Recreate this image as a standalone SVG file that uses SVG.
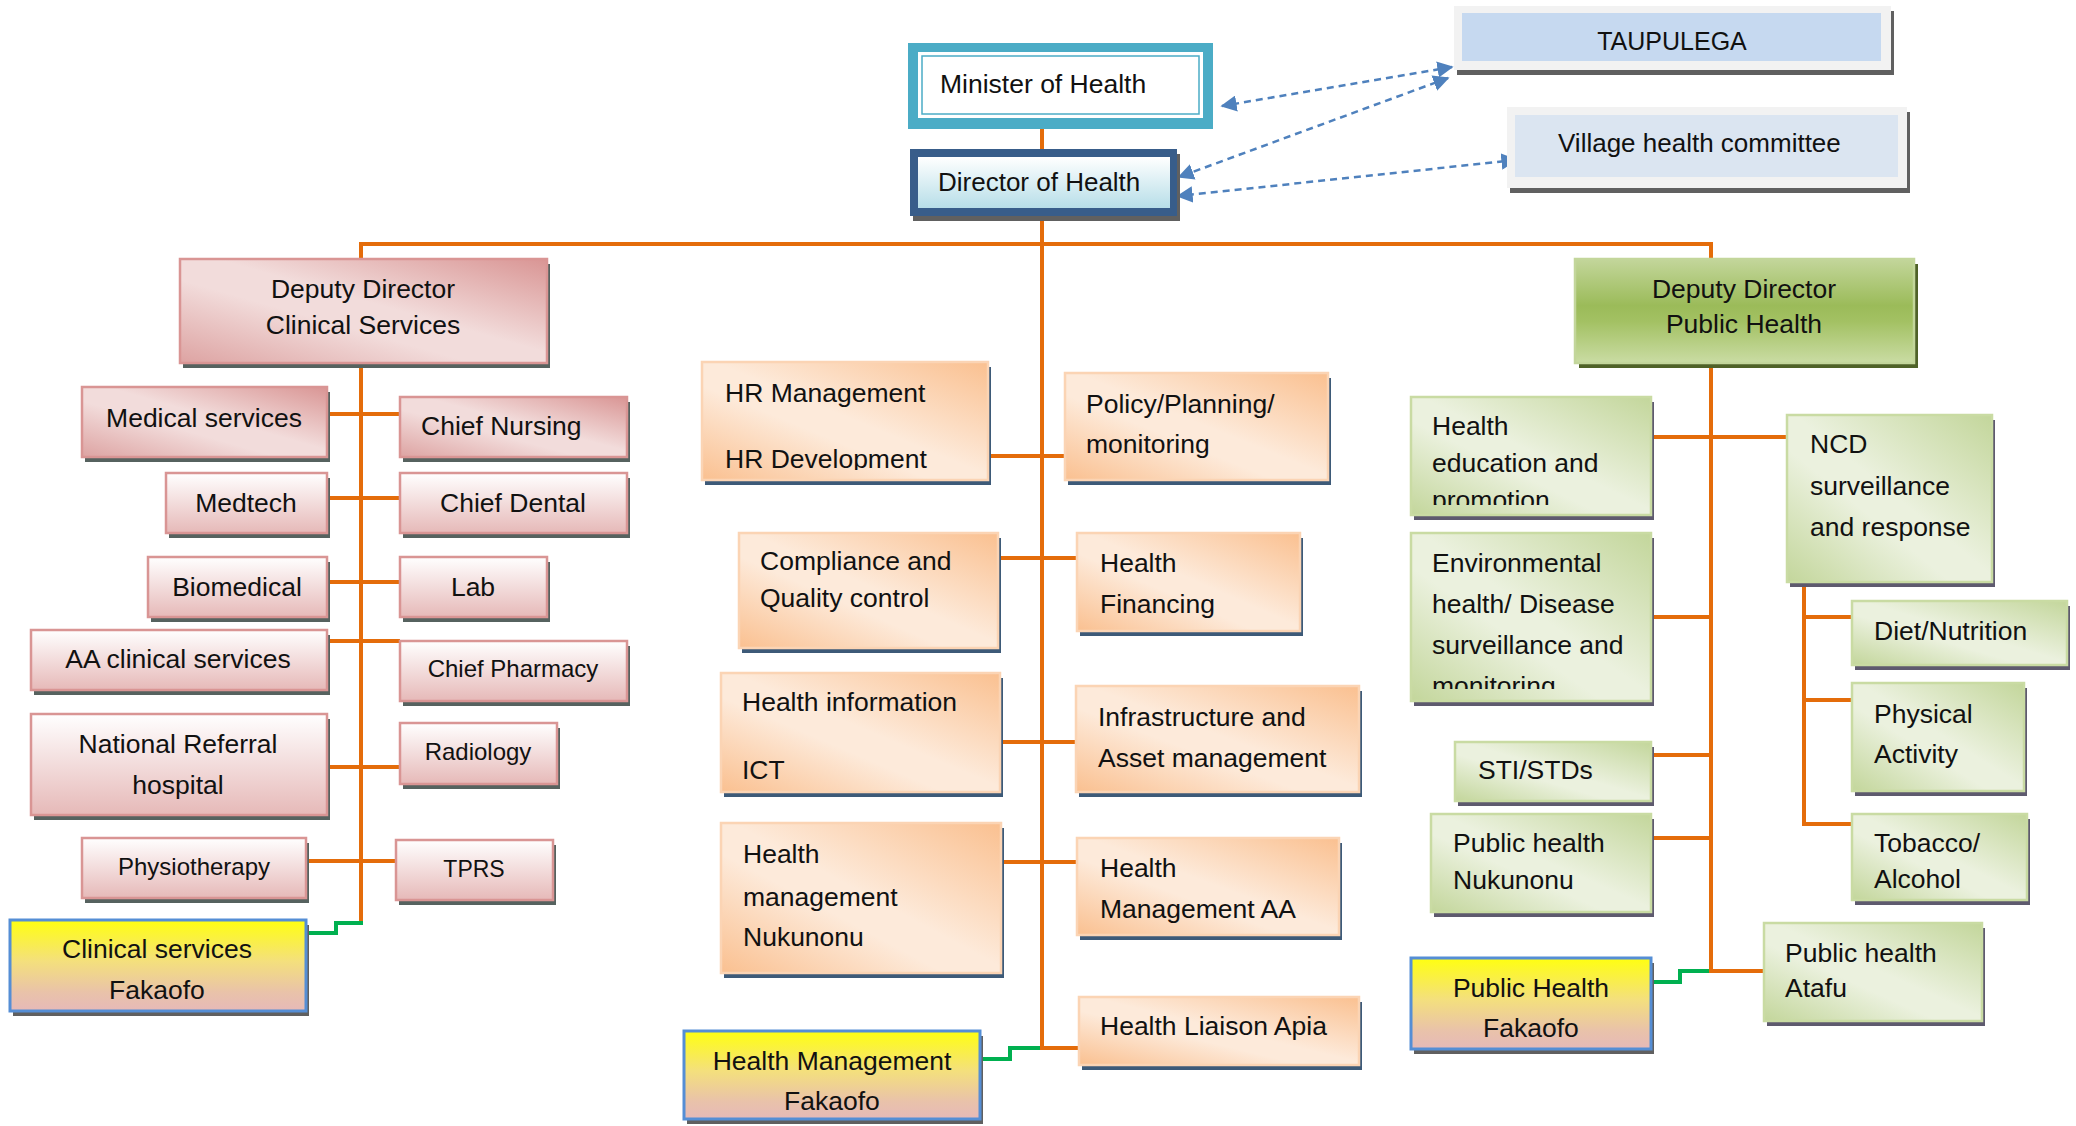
<svg xmlns="http://www.w3.org/2000/svg" width="2076" height="1126" viewBox="0 0 2076 1126">
<style>
text{font-family:"Liberation Sans",Arial,sans-serif;font-size:26.5px;fill:#111}
.s24{font-size:24px}
.m{text-anchor:middle}
.conn{fill:none;stroke:#E46C0A;stroke-width:4}
.grn{fill:none;stroke:#00B050;stroke-width:4}
.dash{fill:none;stroke:#4F81BD;stroke-width:2.5;stroke-dasharray:7 5}
.pk{stroke:#D99594;stroke-width:2.5}
.or{stroke:#FBD4B4;stroke-width:2.5}
.gr{stroke:#C9DBA3;stroke-width:2.5}
.yl{stroke:#558ED5;stroke-width:3}
.shp{fill:#56625f}
.sho{fill:#3d5a78}
.shg{fill:#5e5a6e}
.shy{fill:#606060}
.pd{fill:url(#gPinkDiag)}
.pv{fill:url(#gPinkV)}
.od{fill:url(#gOrange)}
.gd{fill:url(#gGreen)}
.yv{fill:url(#gYellow)}
</style>
<defs>
<linearGradient id="gPinkDiag" x1="1" y1="0" x2="0" y2="1"><stop offset="0" stop-color="#D99594"/><stop offset="0.45" stop-color="#F2DCDB"/><stop offset="0.6" stop-color="#F2DCDB"/><stop offset="1" stop-color="#DDA3A2"/></linearGradient>
<linearGradient id="gPinkV" x1="0" y1="0" x2="0" y2="1"><stop offset="0" stop-color="#FFFFFF"/><stop offset="1" stop-color="#E6B9B8"/></linearGradient>
<linearGradient id="gOrange" x1="1" y1="0" x2="0" y2="1"><stop offset="0" stop-color="#FAC090"/><stop offset="0.48" stop-color="#FDEADA"/><stop offset="0.6" stop-color="#FDEADA"/><stop offset="1" stop-color="#FAC090"/></linearGradient>
<linearGradient id="gGreen" x1="1" y1="0" x2="0" y2="1"><stop offset="0" stop-color="#C3D69B"/><stop offset="0.48" stop-color="#EBF1DE"/><stop offset="0.6" stop-color="#EBF1DE"/><stop offset="1" stop-color="#C3D69B"/></linearGradient>
<linearGradient id="gGreenV" x1="0" y1="0" x2="0" y2="1"><stop offset="0" stop-color="#C3D69B"/><stop offset="0.45" stop-color="#9BBB59"/><stop offset="0.6" stop-color="#A3C163"/><stop offset="1" stop-color="#CADCA4"/></linearGradient>
<linearGradient id="gYellow" x1="0" y1="0" x2="0" y2="1"><stop offset="0" stop-color="#FFFF10"/><stop offset="0.45" stop-color="#F4E07C"/><stop offset="0.8" stop-color="#E9C2AA"/><stop offset="1" stop-color="#E6B9B8"/></linearGradient>
<linearGradient id="gDir" x1="0" y1="0" x2="0" y2="1"><stop offset="0" stop-color="#FFFFFF"/><stop offset="1" stop-color="#B7DEE8"/></linearGradient>
<marker id="ah" viewBox="0 0 10 10" refX="9" refY="5" markerWidth="6.5" markerHeight="6.5" orient="auto-start-reverse"><path d="M0,0 L10,5 L0,10 z" fill="#4F81BD"/></marker>
<clipPath id="cHR"><rect x="702" y="362" width="286" height="108"/></clipPath>
<clipPath id="cHed"><rect x="1411" y="397" width="240" height="108"/></clipPath>
<clipPath id="cEnv"><rect x="1411" y="533" width="240" height="156"/></clipPath>
<clipPath id="cHMF"><rect x="684" y="1031" width="296" height="79"/></clipPath>
</defs>

<g id="connectors">
<path class="conn" d="M1042,129 V150"/>
<path class="conn" d="M1042,198 V1048 H1079"/>
<path class="conn" d="M361,260 V244 H1711 V260"/>
<path class="conn" d="M361,363 V923"/>
<path class="conn" d="M327,414 H400 M327,498 H400 M327,582 H400 M327,641 H400 M327,767 H400 M306,861 H396"/>
<path class="grn" d="M306,933 H336 V923 H363"/>
<path class="conn" d="M988,456 H1065 M998,558 H1077 M1000,742 H1076 M1001,862 H1077"/>
<path class="grn" d="M980,1059 H1010 V1048 H1040"/>
<path class="conn" d="M1711,363 V971 H1764"/>
<path class="conn" d="M1651,437 H1787 M1651,617 H1711 M1651,755 H1711 M1651,838 H1711"/>
<path class="grn" d="M1651,982 H1680 V971 H1709"/>
<path class="conn" d="M1804,582 V824 H1852 M1804,617 H1852 M1804,700 H1852"/>
<path class="dash" d="M1452,67 L1222,106" marker-start="url(#ah)" marker-end="url(#ah)"/>
<path class="dash" d="M1448,78 L1179,177" marker-start="url(#ah)" marker-end="url(#ah)"/>
<path class="dash" d="M1516,160 L1178,196" marker-start="url(#ah)" marker-end="url(#ah)"/>
</g>

<g id="minister-of-health">
<rect x="908" y="43" width="305" height="86" fill="#4BACC6"/>
<rect x="918" y="52" width="285" height="66" fill="#FFFFFF"/>
<rect x="922" y="56" width="277" height="58" fill="#FFFFFF" stroke="#4BACC6" stroke-width="1.5"/>
<text x="940" y="93">Minister of Health</text>
</g>
<g id="director-of-health">
<rect x="913" y="154" width="267" height="67" class="shy"/>
<rect x="910" y="149" width="267" height="67" fill="#385D8A"/>
<rect x="918" y="157" width="252" height="51" fill="url(#gDir)"/>
<text x="938" y="191" style="font-size:26px">Director of Health</text>
</g>
<g id="taupulega">
<rect x="1457" y="11" width="437" height="64" class="shy"/>
<rect x="1454" y="6" width="437" height="64" fill="#F2F2F2"/>
<rect x="1462" y="13" width="419" height="48" fill="#C6D9F0"/>
<text class="m" x="1672" y="50" style="font-size:25px">TAUPULEGA</text>
</g>
<g id="village-health-committee">
<rect x="1510" y="112" width="400" height="81" class="shy"/>
<rect x="1507" y="107" width="400" height="81" fill="#F2F2F2"/>
<rect x="1515" y="115" width="383" height="62" fill="#DBE5F1"/>
<text x="1558" y="152" style="font-size:26px">Village health committee</text>
</g>

<g id="deputy-director-clinical">
<rect x="183" y="264" width="367" height="104" class="shp"/>
<rect x="180" y="259" width="367" height="104" class="pd pk"/>
<text class="m" x="363" y="298">Deputy Director</text>
<text class="m" x="363" y="334">Clinical Services</text>
</g>
<g id="medical-services">
<rect x="85" y="392" width="245" height="70" class="shp"/>
<rect x="82" y="387" width="245" height="70" class="pd pk"/>
<text class="m" x="204" y="427">Medical services</text>
</g>
<g id="chief-nursing">
<rect x="403" y="402" width="227" height="60" class="shp"/>
<rect x="400" y="397" width="227" height="60" class="pd pk"/>
<text x="421" y="435">Chief Nursing</text>
</g>
<g id="medtech">
<rect x="169" y="478" width="161" height="60" class="shp"/>
<rect x="166" y="473" width="161" height="60" class="pv pk"/>
<text class="m" x="246" y="512">Medtech</text>
</g>
<g id="chief-dental">
<rect x="403" y="478" width="227" height="60" class="shp"/>
<rect x="400" y="473" width="227" height="60" class="pv pk"/>
<text class="m" x="513" y="512">Chief Dental</text>
</g>
<g id="biomedical">
<rect x="151" y="562" width="179" height="60" class="shp"/>
<rect x="148" y="557" width="179" height="60" class="pv pk"/>
<text class="m" x="237" y="596">Biomedical</text>
</g>
<g id="lab">
<rect x="403" y="562" width="147" height="60" class="shp"/>
<rect x="400" y="557" width="147" height="60" class="pv pk"/>
<text class="m" x="473" y="596">Lab</text>
</g>
<g id="aa-clinical-services">
<rect x="34" y="635" width="296" height="60" class="shp"/>
<rect x="31" y="630" width="296" height="60" class="pv pk"/>
<text class="m" x="178" y="668">AA clinical services</text>
</g>
<g id="chief-pharmacy">
<rect x="403" y="646" width="227" height="60" class="shp"/>
<rect x="400" y="641" width="227" height="60" class="pv pk"/>
<text class="m s24" x="513" y="677">Chief Pharmacy</text>
</g>
<g id="national-referral-hospital">
<rect x="34" y="719" width="296" height="101" class="shp"/>
<rect x="31" y="714" width="296" height="101" class="pv pk"/>
<text class="m" x="178" y="753">National Referral</text>
<text class="m" x="178" y="794">hospital</text>
</g>
<g id="radiology">
<rect x="403" y="728" width="157" height="61" class="shp"/>
<rect x="400" y="723" width="157" height="61" class="pv pk"/>
<text class="m s24" x="478" y="760">Radiology</text>
</g>
<g id="physiotherapy">
<rect x="85" y="843" width="224" height="60" class="shp"/>
<rect x="82" y="838" width="224" height="60" class="pv pk"/>
<text class="m s24" x="194" y="875">Physiotherapy</text>
</g>
<g id="tprs">
<rect x="399" y="845" width="157" height="60" class="shp"/>
<rect x="396" y="840" width="157" height="60" class="pv pk"/>
<text class="m" x="474" y="877" style="font-size:23px">TPRS</text>
</g>
<g id="clinical-services-fakaofo">
<rect x="13" y="925" width="296" height="91" class="shy"/>
<rect x="10" y="920" width="296" height="91" class="yv yl"/>
<text class="m" x="157" y="958">Clinical services</text>
<text class="m" x="157" y="999">Fakaofo</text>
</g>

<g id="hr-management">
<rect x="705" y="367" width="286" height="118" class="sho"/>
<rect x="702" y="362" width="286" height="118" class="od or"/>
<g clip-path="url(#cHR)">
<text x="725" y="402">HR Management</text>
<text x="725" y="468">HR Development</text>
</g>
</g>
<g id="policy-planning">
<rect x="1068" y="378" width="263" height="107" class="sho"/>
<rect x="1065" y="373" width="263" height="107" class="od or"/>
<text x="1086" y="413">Policy/Planning/</text>
<text x="1086" y="453">monitoring</text>
</g>
<g id="compliance">
<rect x="742" y="538" width="259" height="115" class="sho"/>
<rect x="739" y="533" width="259" height="115" class="od or"/>
<text x="760" y="570">Compliance and</text>
<text x="760" y="607">Quality control</text>
</g>
<g id="health-financing">
<rect x="1080" y="538" width="223" height="98" class="sho"/>
<rect x="1077" y="533" width="223" height="98" class="od or"/>
<text x="1100" y="572">Health</text>
<text x="1100" y="613">Financing</text>
</g>
<g id="health-information">
<rect x="724" y="678" width="279" height="119" class="sho"/>
<rect x="721" y="673" width="279" height="119" class="od or"/>
<text x="742" y="711">Health information</text>
<text x="742" y="779">ICT</text>
</g>
<g id="infrastructure">
<rect x="1079" y="691" width="283" height="106" class="sho"/>
<rect x="1076" y="686" width="283" height="106" class="od or"/>
<text x="1098" y="726">Infrastructure and</text>
<text x="1098" y="767">Asset management</text>
</g>
<g id="health-management-nukunonu">
<rect x="724" y="828" width="280" height="150" class="sho"/>
<rect x="721" y="823" width="280" height="150" class="od or"/>
<text x="743" y="863">Health</text>
<text x="743" y="906">management</text>
<text x="743" y="946">Nukunonu</text>
</g>
<g id="health-management-aa">
<rect x="1080" y="843" width="262" height="97" class="sho"/>
<rect x="1077" y="838" width="262" height="97" class="od or"/>
<text x="1100" y="877">Health</text>
<text x="1100" y="918">Management AA</text>
</g>
<g id="health-liaison-apia">
<rect x="1082" y="1002" width="280" height="68" class="sho"/>
<rect x="1079" y="997" width="280" height="68" class="od or"/>
<text x="1100" y="1035">Health Liaison Apia</text>
</g>
<g id="health-management-fakaofo">
<rect x="687" y="1036" width="296" height="88" class="shy"/>
<rect x="684" y="1031" width="296" height="88" class="yv yl"/>
<g clip-path="url(#cHMF)">
<text class="m" x="832" y="1070">Health Management</text>
<text class="m" x="832" y="1110">Fakaofo</text>
</g>
</g>

<g id="deputy-director-public-health">
<rect x="1579" y="264" width="339" height="104" fill="#4F6228"/>
<rect x="1575" y="259" width="339" height="104" fill="url(#gGreenV)" stroke="#C3D69B" stroke-width="2.5"/>
<text class="m" x="1744" y="298">Deputy Director</text>
<text class="m" x="1744" y="333">Public Health</text>
</g>
<g id="health-education">
<rect x="1414" y="402" width="240" height="118" class="shg"/>
<rect x="1411" y="397" width="240" height="118" class="gd gr"/>
<g clip-path="url(#cHed)">
<text x="1432" y="435">Health</text>
<text x="1432" y="472">education and</text>
<text x="1432" y="509">promotion</text>
</g>
</g>
<g id="ncd-surveillance">
<rect x="1790" y="420" width="205" height="167" class="shg"/>
<rect x="1787" y="415" width="205" height="167" class="gd gr"/>
<text x="1810" y="453">NCD</text>
<text x="1810" y="495">surveillance</text>
<text x="1810" y="536">and response</text>
</g>
<g id="environmental-health">
<rect x="1414" y="538" width="240" height="168" class="shg"/>
<rect x="1411" y="533" width="240" height="168" class="gd gr"/>
<g clip-path="url(#cEnv)">
<text x="1432" y="572">Environmental</text>
<text x="1432" y="613">health/ Disease</text>
<text x="1432" y="654">surveillance and</text>
<text x="1432" y="695">monitoring</text>
</g>
</g>
<g id="sti-stds">
<rect x="1458" y="747" width="196" height="59" class="shg"/>
<rect x="1455" y="742" width="196" height="59" class="gd gr"/>
<text x="1478" y="779">STI/STDs</text>
</g>
<g id="public-health-nukunonu">
<rect x="1434" y="819" width="220" height="98" class="shg"/>
<rect x="1431" y="814" width="220" height="98" class="gd gr"/>
<text x="1453" y="852">Public health</text>
<text x="1453" y="889">Nukunonu</text>
</g>
<g id="public-health-fakaofo">
<rect x="1414" y="963" width="240" height="91" class="shy"/>
<rect x="1411" y="958" width="240" height="91" class="yv yl"/>
<text class="m" x="1531" y="997">Public Health</text>
<text class="m" x="1531" y="1037">Fakaofo</text>
</g>
<g id="public-health-atafu">
<rect x="1767" y="928" width="218" height="98" class="shg"/>
<rect x="1764" y="923" width="218" height="98" class="gd gr"/>
<text x="1785" y="962">Public health</text>
<text x="1785" y="997">Atafu</text>
</g>
<g id="diet-nutrition">
<rect x="1855" y="606" width="215" height="64" class="shg"/>
<rect x="1852" y="601" width="215" height="64" class="gd gr"/>
<text x="1874" y="640">Diet/Nutrition</text>
</g>
<g id="physical-activity">
<rect x="1855" y="688" width="172" height="108" class="shg"/>
<rect x="1852" y="683" width="172" height="108" class="gd gr"/>
<text x="1874" y="723">Physical</text>
<text x="1874" y="763">Activity</text>
</g>
<g id="tobacco-alcohol">
<rect x="1855" y="819" width="175" height="86" class="shg"/>
<rect x="1852" y="814" width="175" height="86" class="gd gr"/>
<text x="1874" y="852">Tobacco/</text>
<text x="1874" y="888">Alcohol</text>
</g>
</svg>
